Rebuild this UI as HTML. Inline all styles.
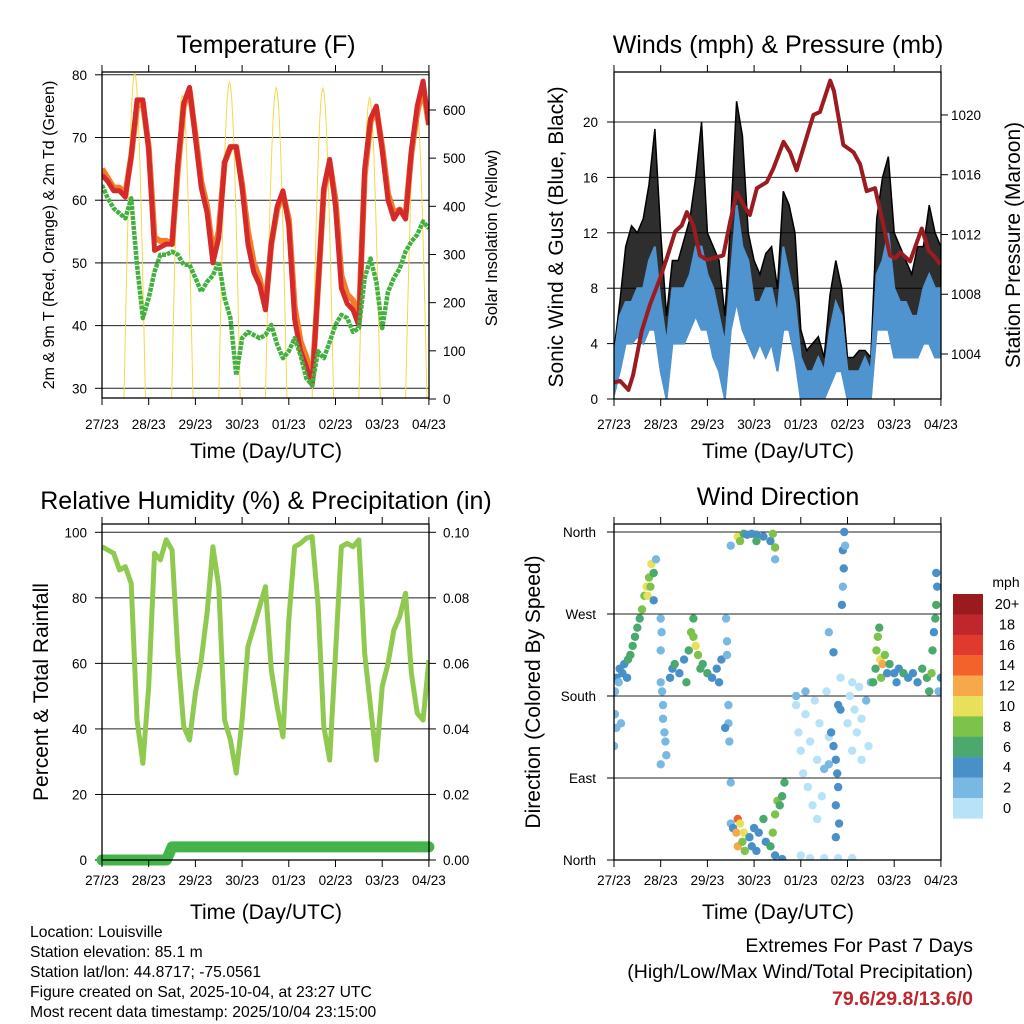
<!DOCTYPE html>
<html><head><meta charset="utf-8"><style>
html,body{margin:0;padding:0;background:#fff;}
svg{display:block;font-family:"Liberation Sans",Arial,sans-serif;}
</style></head><body>
<svg id="chart" width="1024" height="1024" viewBox="0 0 1024 1024" xmlns="http://www.w3.org/2000/svg">
<defs>
<clipPath id="cT"><rect x="102" y="72" width="327" height="326"/></clipPath>
<clipPath id="cW"><rect x="614" y="72" width="327" height="327"/></clipPath>
<clipPath id="cR"><rect x="102" y="524" width="327" height="336"/></clipPath>
<clipPath id="cD"><rect x="614" y="524" width="327" height="336"/></clipPath>
</defs>
<g id="gT"></g>
<g id="gW"></g>
<g id="gR"></g>
<g id="gD"></g>
<g id="gTxt">
<text x="30" y="937" font-size="15.7">Location: Louisville</text>
<text x="30" y="957" font-size="15.7">Station elevation: 85.1 m</text>
<text x="30" y="977" font-size="15.7">Station lat/lon: 44.8717; -75.0561</text>
<text x="30" y="997" font-size="15.7">Figure created on Sat, 2025-10-04, at 23:27 UTC</text>
<text x="30" y="1017" font-size="15.7">Most recent data timestamp: 2025/10/04 23:15:00</text>
<text x="973" y="952" font-size="19.5" text-anchor="end">Extremes For Past 7 Days</text>
<text x="973" y="978" font-size="19.5" text-anchor="end">(High/Low/Max Wind/Total Precipitation)</text>
<text x="973" y="1005" font-size="19.5" font-weight="bold" fill="#c0272d" text-anchor="end">79.6/29.8/13.6/0</text>
</g>
</svg>
<script>
// ---------- data ----------
const dayLabels = ["27/23","28/23","29/23","30/23","01/23","02/23","03/23","04/23"];
const tempRed = [64,63,61.5,61.5,60.5,67,76,76,68,52,52.5,53,53,66,75.5,78,70,62,58,50,54,66,68.5,68.5,62,53,48.5,46.5,42.5,53,59,61.5,56,41,36,33.5,30.5,46,62,66.5,59,46,43.5,42.5,40,65,73,75,68,60,57,58.5,57,68,75,79,72];
const tempOrange = [65,63.5,62,62,61,67,75,75.5,68.5,54,53.5,53.5,53,65,75,77.5,70.5,63,59,51.5,55,66,68.5,68.5,62.5,55,50,47.5,43,53,58.5,61,57,43,37.5,35,31,46,61.5,66,60,48,45,44,41,64,72.5,74.5,68.5,61,58,58.5,57.5,67.5,74,78,72];
const dewGreen = [62.4,60.3,58.7,57.9,57.1,60.3,49.7,41.2,44.4,48.6,51.3,51.3,51.8,51.3,49.7,49.7,47.6,45.4,47,48,50.2,44.4,41.2,32.1,38,39,38.5,38,38.5,40.1,37,34.8,35.9,38,35.3,31.6,30.5,35.9,34.8,37.4,40.1,41.7,41.2,39,39.6,47.6,50.7,47,39.6,45.4,47.6,49.1,51.8,53.4,54.5,56.6,55.5];
const solarPeakDay = [0.7,1.72,2.73,3.73,4.73,5.73,6.73];
const solarPeak = [677,631,658,646,645,625,610];
const windLo = [0.3,2,4,4,4.5,4,5,5,2,0,4,4,4,5,6,5,5,3,2,0,5,7,5,4,3,4,3,4,2,5,5,3,0,0,0,0,0,1,2,2,0,0,0,0,0,5,5,5,3,3,3,3,3,4,4,3,3];
const windHi = [3,6,7,7,8,8,10,11,7,4,8,8,8,9,11,11,9,8,6,4,9,14,11,10,7,7,8,8,6,11,9,7,3,2,2,3,2,5,7,6,2,2,2,3,2,9,10,12,8,7,7,6,6,8,9,8,8];
const gustHi = [3.5,7,11,12.5,12,13,15.5,19.5,12,6,10,10,11.5,13,16,20,12,11,10,6,13,21.5,19,12,10,9,10.5,11,8,15,14,12,5,3.5,4,4.5,3,7.5,10,8,3,3,3.5,3.5,3,13,16,17.5,12,11,10,9,11,11,14,12,11];
const presDay = [0,0.13,0.31,0.41,0.59,0.77,0.99,1.13,1.31,1.45,1.56,1.7,1.84,1.99,2.34,2.49,2.63,2.77,2.91,3.06,3.27,3.41,3.63,3.77,3.91,4.27,4.41,4.63,4.71,4.91,5.13,5.27,5.41,5.59,5.77,5.91,6.02,6.13,6.34,6.59,6.74,6.84,6.99];
const presVal = [1002.1,1002.2,1001.6,1002.6,1005.5,1007.3,1009.1,1010.4,1012.2,1012.6,1013.5,1012.6,1010.6,1010.3,1010.6,1012.9,1014.8,1014.0,1013.3,1015.1,1015.5,1016.4,1018.2,1017.5,1016.3,1020.0,1020.2,1022.3,1021.6,1018.0,1017.5,1016.7,1014.9,1015.1,1012.6,1010.6,1010.4,1010.8,1010.2,1012.4,1010.9,1010.6,1010.0];
const rhVals = [95.6,94.6,93.6,88.5,89.5,84.4,42.7,29.5,52.9,93.6,91.6,97.7,94.6,63,40.7,36.6,50.9,61,75.3,95.6,83.4,42.7,36.6,26.5,42.7,65.1,71.2,77.3,83.4,58,46.8,37.6,73.2,95.6,96.6,98.2,98.7,78.3,40.7,30.5,63,95.6,96.6,95.6,97.7,63,46.8,30.5,52.9,60,70.2,74.3,81.4,57,44.8,42.7,61];
const rainDays = [0,1.38,1.5,7];
const rainVals = [0,0,0.004,0.004];
const dirDay = [0.02,0.05,0.1,0.12,0.18,0.22,0.28,0.3,0.02,0.05,0.15,0.0,
0.35,0.4,0.45,0.5,0.55,0.6,0.65,0.7,0.75,0.8,0.78,0.72,0.85,0.85,0.9,
1.0,1.02,1.0,1.03,1.05,1.05,1.08,1.1,1.12,1.0,1.0,
1.2,1.25,1.3,1.4,1.5,1.6,1.65,1.7,1.75,1.8,1.85,1.9,2.0,2.1,2.2,2.25,2.3,1.55,1.7,
2.4,2.42,2.42,2.45,2.45,2.47,2.5,2.38,
2.65,2.7,2.78,2.85,2.95,3.05,3.2,3.35,3.4,3.45,3.05,2.5,3.45,
2.5,2.55,2.65,2.62,2.65,2.7,2.75,2.8,2.78,2.9,2.95,3.0,3.05,3.1,3.2,3.25,3.35,3.4,3.45,3.5,3.55,3.6,3.65,3.45,
3.9,3.95,4.0,4.05,4.1,4.15,4.2,4.25,4.3,4.35,4.4,4.45,4.5,4.55,4.6,4.35,4.0,4.2,4.5,3.6,4.8,5.1,5.0,5.05,5.1,5.15,5.2,5.25,5.3,5.3,5.4,5.45,5.5,4.85,5.1,3.9,4.1,
4.65,4.7,4.75,4.78,4.8,4.75,4.82,4.75,4.85,4.8,4.6,4.9,4.92,4.9,4.88,4.95,4.93,4.7,4.6,
5.55,5.6,5.62,5.65,5.68,5.7,5.72,5.75,5.8,5.85,5.9,6.0,6.05,6.1,6.2,6.3,6.4,6.5,6.6,6.7,6.75,6.8,6.82,6.85,6.88,6.9,6.92,6.9,7.0,6.95];
const dirDeg = [185,200,195,210,205,215,200,220,160,145,150,125,
225,235,245,255,265,275,290,300,310,325,300,290,315,285,330,
265,250,230,185,170,155,140,130,115,105,195,
200,210,215,205,220,230,250,245,235,225,210,215,205,200,210,195,220,195,265,
265,240,225,170,150,130,85,145,
355,350,358,357,358,357,355,350,358,330,350,345,343,
40,35,45,30,15,40,20,10,30,25,15,35,10,30,45,20,15,30,50,65,60,70,85,5,
170,140,120,95,160,80,130,60,175,110,150,70,100,185,135,45,5,2,2,1,2,2,150,180,120,165,140,190,155,110,175,125,195,200,195,180,185,
140,125,110,95,80,60,40,25,165,170,105,340,320,300,280,345,360,228,250,
195,210,230,245,255,220,200,215,225,205,215,205,195,210,205,200,205,195,210,200,185,205,230,250,265,280,300,315,200,185];
const dirSpd = [2,4,3,4,4,4,5,6,2,2,3,2,
6,6,7,6,7,8,9,10,9,10,8,11,7,4,2,
2,2,2,3,2,3,3,2,2,2,2,
5,4,6,5,4,7,8,9,10,9,7,6,6,5,4,4,4,6,6,
2,2,2,2,2,2,2,4,
10,9,6,5,4,4,4,5,8,3,7,2,8,
2,4,14,12,12,10,9,8,10,5,4,4,5,5,6,4,6,8,9,8,6,7,6,4,
1,1,0,1,1,1,1,0,0,1,1,1,2,1,1,0,0,0,0,4,0,0,1,0,1,1,1,1,1,1,2,1,2,1,1,2,2,
4,4,4,5,4,4,4,5,4,4,3,4,4,3,4,3,4,4,2,
6,7,8,8,7,10,9,12,8,4,6,5,4,4,6,4,5,4,6,7,6,8,6,4,6,6,4,4,4,2];
const cbLabels = ["20+","18","16","14","12","10","8","6","4","2","0"];
const cbColors = ["#9b1a1e","#c0272d","#e03a2e","#f2622a","#f7a84a","#e8e05a","#7dc24b","#4aa96c","#4a90c8","#7ab8e4","#b8e2f7"];
const tempTicks = [30,40,50,60,70,80];
const solarTicks = [0,100,200,300,400,500,600];
const windTicks = [0,4,8,12,16,20];
const presTicks = [1004,1008,1012,1016,1020];
const rhTicks = [0,20,40,60,80,100];
const rainTicks = ["0.00","0.02","0.04","0.06","0.08","0.10"];
const dirTicks = ["North","East","South","West","North"];

// ---------- helpers ----------
const NS="http://www.w3.org/2000/svg";
const TS=13.5;
function mk(parent,tag,attrs,txt){const e=document.createElementNS(NS,tag);for(const k in attrs)e.setAttribute(k,attrs[k]);if(txt!==undefined)e.textContent=txt;parent.appendChild(e);return e;}
const DAYW=46.7;
function frame(g,x0,y0,x1,y1,xTickY){
  const r=mk(g,'rect',{x:x0,y:y0,width:x1-x0,height:y1-y0,fill:'none',stroke:'#000','stroke-width':1.3});
  
  
  for(let i=0;i<dayLabels.length;i++){
    const x=x0+i*DAYW;
    mk(g,'line',{x1:x,y1:y1,x2:x,y2:y1+7,stroke:'#000'});
    mk(g,'line',{x1:x,y1:y0,x2:x,y2:y0-7,stroke:'#000'});
    const t=mk(g,'text',{x:x,y:xTickY,'font-size':TS,'text-anchor':'middle'},dayLabels[i]);
    
    
  }
}
function hgrid(g,x0,x1,y,label,lx,anchor,name){
  mk(g,'line',{x1:x0,y1:y,x2:x1,y2:y,stroke:'#222','stroke-width':1});
  if(label!==null){
    mk(g,'line',{x1:anchor==='end'?x0-7:x1,y1:y,x2:anchor==='end'?x0:x1+7,y2:y,stroke:'#000'});
    const t=mk(g,'text',{x:lx,y:y+5,'font-size':TS,'text-anchor':anchor},label);
    
    
  }
}
function vtext(g,x,y,size,str,name){
  const t=mk(g,'text',{x:0,y:0,'font-size':size,'text-anchor':'middle',transform:`translate(${x},${y}) rotate(-90)`},str);
  
  
}
function htext(g,x,y,size,str,name){
  const t=mk(g,'text',{x:x,y:y,'font-size':size,'text-anchor':'middle'},str);
  
  
}
function idxDay(i){return i/8;}

// ---------- Temperature ----------
(function(){
  const g=document.getElementById('gT');
  const X=d=>102+d*DAYW, Y=t=>388.3-(t-30)*6.27, YS=s=>399-s*0.4817;
  tempTicks.forEach(t=>hgrid(g,102,429,Y(t),String(t),87,'end','temp-tick-label'));
  solarTicks.forEach(s=>{const y=YS(s);mk(g,'line',{x1:429,y1:y,x2:436,y2:y,stroke:'#000'});
    const t=mk(g,'text',{x:443,y:y+5,'font-size':TS},String(s));
    
    });
  const c=mk(g,'g',{'clip-path':'url(#cT)'});
  let sp=[];
  solarPeakDay.forEach((pd,k)=>{const w=0.23;
    for(let j=0;j<=20;j++){const t=-w+2*w*j/20;const v=solarPeak[k]*Math.cos(Math.PI/2*t/w);sp.push(X(pd+t)+','+YS(Math.max(0,v)));}
  });
  const sl=mk(c,'polyline',{points:sp.join(' '),fill:'none',stroke:'#f5d84a','stroke-width':1});
  
  
  const pts=a=>a.map((v,i)=>X(idxDay(i))+','+Y(v)).join(' ');
  const o=mk(c,'polyline',{points:pts(tempOrange),fill:'none',stroke:'#f47b2a','stroke-width':6,'stroke-linejoin':'round'});
  
  
  const r=mk(c,'polyline',{points:pts(tempRed),fill:'none',stroke:'#d42a2a','stroke-width':5,'stroke-linejoin':'round'});
  
  
  const gr=mk(c,'polyline',{points:pts(dewGreen),fill:'none',stroke:'#44b040','stroke-width':4.5,'stroke-dasharray':'4 1','stroke-linejoin':'round'});
  
  
  frame(g,102,72,429,398,429);
  htext(g,266,53,25,'Temperature (F)','temp-title');
  htext(g,266,458,21,'Time (Day/UTC)','temp-x-axis-title');
  vtext(g,54,235,16,'2m & 9m T (Red, Orange) & 2m Td (Green)','temp-y-axis-title');
  vtext(g,497,238,16.5,'Solar Insolation (Yellow)','solar-y-axis-title');
})();

// ---------- Winds ----------
(function(){
  const g=document.getElementById('gW');
  const X=d=>614+d*DAYW, Y=v=>399-v*13.85, YP=p=>354-(p-1004)*14.94;
  windTicks.forEach(v=>hgrid(g,614,941,Y(v),String(v),598,'end','wind-tick-label'));
  presTicks.forEach(p=>{const y=YP(p);mk(g,'line',{x1:941,y1:y,x2:948,y2:y,stroke:'#000'});
    const t=mk(g,'text',{x:951,y:y+5,'font-size':TS},String(p));
    
    });
  const c=mk(g,'g',{'clip-path':'url(#cW)'});
  const up=gustHi.map((v,i)=>X(idxDay(i))+','+Y(v));
  const dn=windLo.map((v,i)=>X(idxDay(i))+','+Y(v)).reverse();
  const gb=mk(c,'polygon',{points:up.concat(dn).join(' '),fill:'#000','fill-opacity':0.82,stroke:'#000','stroke-width':1.5});
  
  
  const bu=windHi.map((v,i)=>X(idxDay(i))+','+Y(v));
  const bb=mk(c,'polygon',{points:bu.concat(dn).join(' '),fill:'#4f93cf',stroke:'#4f93cf','stroke-width':2});
  
  
  const pl=mk(c,'polyline',{points:presDay.map((d,i)=>X(d)+','+YP(presVal[i])).join(' '),fill:'none',stroke:'#9b1c20','stroke-width':4,'stroke-linejoin':'round'});
  
  
  frame(g,614,72,941,399,429);
  htext(g,778,53,25,'Winds (mph) & Pressure (mb)','winds-title');
  htext(g,778,458,21,'Time (Day/UTC)','winds-x-axis-title');
  vtext(g,563,237,21,'Sonic Wind & Gust (Blue, Black)','wind-y-axis-title');
  vtext(g,1020,245,21,'Station Pressure (Maroon)','pressure-y-axis-title');
})();

// ---------- RH ----------
(function(){
  const g=document.getElementById('gR');
  const X=d=>102+d*DAYW, Y=v=>860-v*3.277, YR=r=>860-r*3277;
  rhTicks.forEach(v=>hgrid(g,102,429,Y(v),String(v),87,'end','rh-tick-label'));
  rainTicks.forEach(s=>{const y=YR(parseFloat(s));mk(g,'line',{x1:429,y1:y,x2:436,y2:y,stroke:'#000'});
    const t=mk(g,'text',{x:443,y:y+5,'font-size':TS},s);
    
    });
  const c=mk(g,'g',{'clip-path':'url(#cR)'});
  const rl=mk(c,'polyline',{points:rhVals.map((v,i)=>X(idxDay(i))+','+Y(v)).join(' '),fill:'none',stroke:'#8fc94f','stroke-width':5,'stroke-linejoin':'round'});
  
  
  const pr=mk(g,'polyline',{points:rainDays.map((d,i)=>X(d)+','+YR(rainVals[i])).join(' '),fill:'none',stroke:'#44b34a','stroke-width':11,'stroke-linecap':'round','stroke-linejoin':'round'});
  
  
  frame(g,102,524,429,860,885);
  htext(g,266,509,25,'Relative Humidity (%) & Precipitation (in)','rh-title');
  htext(g,266,919,21,'Time (Day/UTC)','rh-x-axis-title');
  vtext(g,48,692,21,'Percent & Total Rainfall','rh-y-axis-title');
})();

// ---------- Wind direction ----------
(function(){
  const g=document.getElementById('gD');
  const X=d=>614+d*DAYW, Y=deg=>860-deg*(328/360);
  dirTicks.forEach((s,i)=>hgrid(g,614,941,Y(i*90),s,596,'end','direction-tick-label'));
  const c=mk(g,'g',{'clip-path':'url(#cD)'});
  dirDay.forEach((d,i)=>{
    const bin=Math.min(10,Math.floor(dirSpd[i]/2));
    const p=mk(c,'circle',{cx:X(d),cy:Y(dirDeg[i]),r:4.2,fill:cbColors[10-bin]});
    
    
  });
  frame(g,614,524,941,860,885);
  htext(g,778,505,25,'Wind Direction','direction-title');
  htext(g,778,919,21,'Time (Day/UTC)','direction-x-axis-title');
  vtext(g,540,692,21,'Direction (Colored By Speed)','direction-y-axis-title');
  const mph=mk(g,'text',{x:1006,y:587,'font-size':14,'text-anchor':'middle'},'mph');
  
  
  cbLabels.forEach((l,i)=>{
    const y=594+i*20.4;
    const r=mk(g,'rect',{x:953,y:y,width:30,height:20.6,fill:cbColors[i]});
    
    
    const t=mk(g,'text',{x:1007,y:y+15,'font-size':14.5,'text-anchor':'middle'},l);
    
    
  });
})();
</script>
</body></html>
